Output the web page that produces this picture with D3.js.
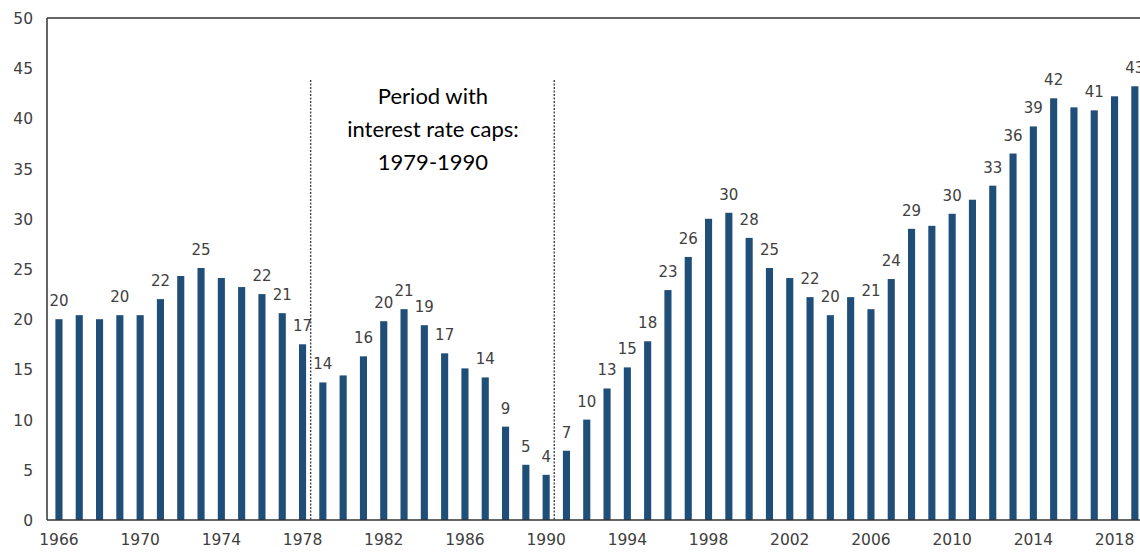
<!DOCTYPE html>
<html>
<head>
<meta charset="utf-8">
<script src="https://cdn.jsdelivr.net/npm/d3@7"></script>
<style>
  body { margin: 0; background: #fff; }
  svg { display: block; }
  .tick text { font-family: "DejaVu Sans", Verdana, sans-serif; font-size: 15.5px; fill: #404040; }
  .lbl { font-family: "DejaVu Sans", Verdana, sans-serif; font-size: 15px; fill: #404040; }
  .note { font-family: Lato, "Open Sans", sans-serif; font-size: 22px; fill: #000; }
</style>
</head>
<body>
<svg id="chart"></svg>
<script>
// years and values
const years = d3.range(1966, 2020);
const values = [
  20.0, 20.4, 20.0, 20.4, 20.4, 22.0, 24.3, 25.1, 24.1, 23.2,
  22.5, 20.6, 17.5, 13.7, 14.4, 16.3, 19.8, 21.0, 19.4, 16.6,
  15.1, 14.2, 9.3, 5.5, 4.5, 6.9, 10.0, 13.1, 15.2, 17.8,
  22.9, 26.2, 30.0, 30.6, 28.1, 25.1, 24.1, 22.2, 20.4, 22.2,
  21.0, 24.0, 29.0, 29.3, 30.5, 31.9, 33.3, 36.5, 39.2, 42.0,
  41.1, 40.8, 42.2, 43.2
];
// only some bars carry a data label, with the number printed on the chart
const labelYears = [1966, 1969, 1971, 1973, 1976, 1977, 1978, 1979, 1981, 1982,
  1983, 1984, 1985, 1987, 1988, 1989, 1990, 1991, 1992, 1993, 1994, 1995, 1996,
  1997, 1999, 2000, 2001, 2003, 2004, 2006, 2007, 2008, 2010, 2012, 2013, 2014,
  2015, 2017, 2019];
const labelTexts = [20, 20, 22, 25, 22, 21, 17, 14, 16, 20,
  21, 19, 17, 14, 9, 5, 4, 7, 10, 13, 15, 18, 23,
  26, 30, 28, 25, 22, 20, 21, 24, 29, 30, 33, 36, 39,
  42, 41, 43];
const xTickYears = d3.range(1966, 2020, 4);
const yTicks = d3.range(0, 51, 5);
const capStart = 1978, capEnd = 1990;
const noteLines = ["Period with", "interest rate caps:", "1979-1990"];

const width = 1140, height = 552;
const svg = d3.select("#chart").attr("width", width).attr("height", height);

const x = d3.scaleBand().domain(years).range([48.8, 48.8 + 54 * 20.3]).paddingInner(0.65).paddingOuter(0.325);
const y = d3.scaleLinear().domain([0, 50]).range([520, 18]);

const data = years.map((yr, i) => ({ year: yr, value: values[i] }));
const labels = labelYears.map((yr, i) => ({ year: yr, value: values[years.indexOf(yr)], text: labelTexts[i] }));

// bars
svg.append("g").selectAll("rect").data(data).enter().append("rect")
    .attr("x", d => x(d.year))
    .attr("y", d => y(d.value))
    .attr("width", x.bandwidth())
    .attr("height", d => y(0) - y(d.value))
    .attr("fill", "#1f4e79");

// frame: left, bottom and top line
svg.append("line").attr("x1", 47).attr("x2", 47).attr("y1", y(50)).attr("y2", y(0))
    .attr("stroke", "#333").attr("stroke-width", 1.5);
svg.append("line").attr("x1", 47).attr("x2", width).attr("y1", y(50)).attr("y2", y(50))
    .attr("stroke", "#333").attr("stroke-width", 1.5);
svg.append("line").attr("x1", 47).attr("x2", width).attr("y1", y(0)).attr("y2", y(0))
    .attr("stroke", "#333").attr("stroke-width", 1.5);

// axes
const yAxis = svg.append("g").attr("transform", "translate(33,0)")
    .call(d3.axisLeft(y).tickValues(yTicks).tickSize(0).tickPadding(0));
yAxis.select(".domain").remove();
yAxis.selectAll("text").attr("dy", "0.36em");

const xAxis = svg.append("g").attr("transform", "translate(0," + (y(0) + 12) + ")")
    .call(d3.axisBottom(x).tickValues(xTickYears).tickSize(0).tickPadding(0));
xAxis.select(".domain").remove();
xAxis.selectAll("text").attr("dy", "0.85em");

// data labels
svg.append("g").selectAll("text").data(labels).enter().append("text")
    .attr("class", "lbl")
    .attr("x", d => x(d.year) + x.bandwidth() / 2)
    .attr("y", d => y(d.value) - 13)
    .attr("text-anchor", "middle")
    .text(d => d.text);

// dashed lines around the cap period
const step = x.step();
[capStart, capEnd].forEach(yr => {
  const lx = x(yr) + x.bandwidth() / 2 + step * 0.4;
  svg.append("line").attr("x1", lx).attr("x2", lx).attr("y1", 80).attr("y2", y(0))
      .attr("stroke", "#444").attr("stroke-width", 1.4).attr("stroke-dasharray", "2,1.5");
});

// annotation
const noteX = (x(capStart) + x(capEnd)) / 2 + step * 0.6;
svg.append("g").selectAll("text").data(noteLines).enter().append("text")
    .attr("class", "note")
    .attr("x", noteX)
    .attr("y", (d, i) => 104 + i * 33)
    .attr("text-anchor", "middle")
    .text(d => d);
</script>
</body>
</html>
